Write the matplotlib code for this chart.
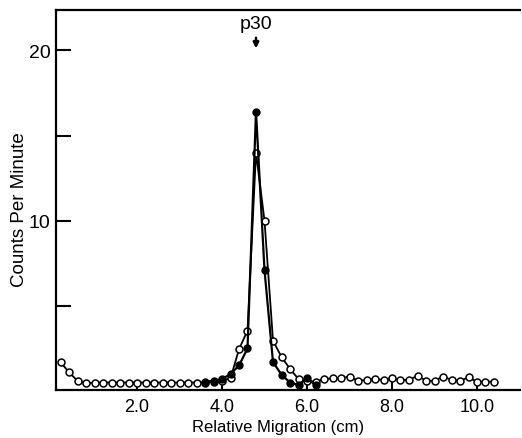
import numpy as np
import matplotlib
matplotlib.use("Agg")
import matplotlib.pyplot as plt

# ---- data ----
open_x = [round(0.2 * k, 1) for k in range(1, 53)]
open_y = [1.7, 1.1, 0.6, 0.45, 0.5, 0.5, 0.5, 0.5, 0.5, 0.5,
          0.5, 0.5, 0.5, 0.5, 0.5, 0.5, 0.5, 0.5, 0.55, 0.6,
          0.75, 2.45, 3.55, 14.0, 10.0, 2.96, 2.0, 1.3, 0.7, 0.6,
          0.55, 0.7, 0.75, 0.75, 0.85, 0.6, 0.65, 0.7, 0.65, 0.75,
          0.65, 0.65, 0.9, 0.6, 0.6, 0.85, 0.65, 0.6, 0.8, 0.55,
          0.55, 0.55]
filled_x = [3.6, 3.8, 4.0, 4.2, 4.4, 4.6, 4.8, 5.0, 5.2, 5.4, 5.6, 5.8, 6.0, 6.2]
filled_y = [0.55, 0.6, 0.7, 1.0, 1.5, 2.5, 16.4, 7.1, 1.7, 0.96, 0.5, 0.35, 0.75, 0.35]

xticks = [2, 4, 6, 8, 10]
xticklabels = ["2.0", "4.0", "6.0", "8.0", "10.0"]
yticks = [5, 10, 15, 20]
yticklabels = ["", "10", "", "20"]

plt.rcParams['font.family'] = ['Liberation Sans', 'DejaVu Sans']

W, H = 522, 439
fig = plt.figure(figsize=(W / 100, H / 100), dpi=100)
ax = fig.add_axes([56 / W, (H - 391) / H, (520 - 56) / W, (391 - 10.5) / H])

ax.plot(open_x, open_y, '-o', color='black', lw=1.3, ms=5,
        markerfacecolor='white', markeredgecolor='black', mew=1.1, zorder=3)
ax.plot(filled_x, filled_y, '-o', color='black', lw=1.6, ms=5,
        markerfacecolor='black', markeredgecolor='black', zorder=4)

x0 = (56 - 52) / 42.5
ax.set_xlim(x0, x0 + (520 - 56) / 42.5)
ax.set_ylim(0.06, 22.4)

ax.set_xticks(xticks)
ax.set_xticklabels(xticklabels, fontsize=13)
ax.set_yticks(yticks)
ax.set_yticklabels(yticklabels, fontsize=14)
ax.tick_params(axis='x', direction='in', length=7, width=1.5, pad=6)
ax.tick_params(axis='y', direction='in', length=11, width=1.5, pad=4)

for s in ['left', 'top', 'bottom']:
    ax.spines[s].set_linewidth(1.6)
ax.spines['right'].set_visible(False)

ax.set_xlabel("Relative Migration (cm)", fontsize=12)
ax.set_ylabel("Counts Per Minute", fontsize=13.5)
ax.xaxis.set_label_coords((278 - 56) / (520 - 56), -(428 - 391) / (391 - 10.5), transform=ax.transAxes)
ax.yaxis.set_label_coords(-(56 - 20) / (520 - 56), (391 - 210) / (391 - 10.5), transform=ax.transAxes)
ax.xaxis.label.set_va('center')
ax.yaxis.label.set_va('center')

ax.text(4.8, 21.55, "p30", ha='center', va='center', fontsize=14)
ax.annotate("", xy=(4.8, 19.95), xytext=(4.8, 20.9),
            arrowprops=dict(arrowstyle='-|>', color='black', lw=1.8,
                            mutation_scale=8))

fig.savefig("out.png", dpi=100)
